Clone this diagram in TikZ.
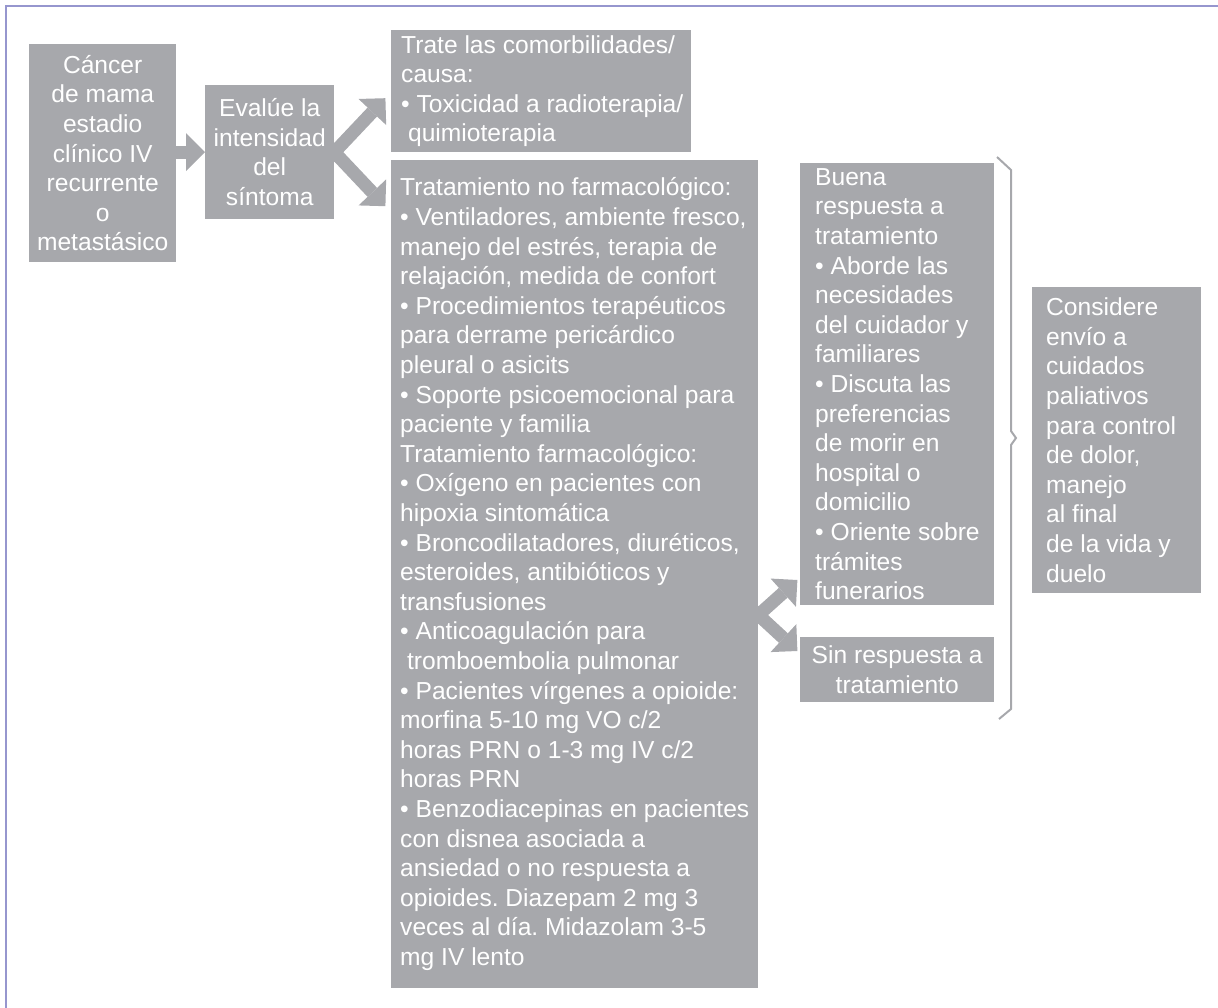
\documentclass[tikz,border=0pt]{standalone}
\usepackage{fontspec}
\setmainfont{Liberation Sans}
\usetikzlibrary{arrows.meta,calc}
\definecolor{boxgray}{RGB}{167,168,172}
\definecolor{framelav}{RGB}{150,150,206}
\frenchspacing

\begin{document}
\begin{tikzpicture}[x=1pt,y=-1pt,
  box/.style={fill=boxgray, draw=none, inner sep=0pt, anchor=north west},
  txt/.style={text=white, inner sep=0pt, font=\fontsize{24.6}{29.6}\selectfont},
  flow/.style={draw=boxgray, line width=13pt,
    -{Triangle[width=38pt,length=19pt,line width=0pt]}},
  bracket/.style={draw=boxgray, line width=2pt, line join=miter}
]
\useasboundingbox (0,0) rectangle (1218,1008);

% page frame (top and left edges)
\draw[framelav, line width=1.5pt] (6,1008) -- (6,6) -- (1218,6);

% boxes
\node[box, minimum width=147pt, minimum height=218pt] (cancer) at (29,44) {};
\node[box, minimum width=129pt, minimum height=134pt] (eval) at (205,85) {};
\node[box, minimum width=300pt, minimum height=122pt] (trate) at (391,30) {};
\node[box, minimum width=367pt, minimum height=828pt] (trat) at (391,160) {};
\node[box, minimum width=194pt, minimum height=442pt] (buena) at (800,163) {};
\node[box, minimum width=194pt, minimum height=65pt] (sin) at (800,637) {};
\node[box, minimum width=169pt, minimum height=306pt] (cons) at (1032,287) {};

% texts
\node[txt, align=center] (cancer-t) at (cancer.center)
  {Cáncer\\de mama\\estadio\\clínico IV\\recurrente\\o\\metastásico};
\node[txt, align=center] (eval-t) at (eval.center)
  {Evalúe la\\intensidad\\del\\síntoma};
\node[txt, align=left, anchor=west] (trate-t) at ($(trate.west)+(10,0)$)
  {Trate las comorbilidades/\\causa:\\• Toxicidad a radioterapia/\\\hspace*{0.28em}quimioterapia};
\node[txt, align=left, anchor=west] (trat-t) at ($(trat.west)+(9,0)$)
  {Tratamiento no farmacológico:\\
   • Ventiladores, ambiente fresco,\\
   manejo del estrés, terapia de\\
   relajación, medida de confort\\
   • Procedimientos terapéuticos\\
   para derrame pericárdico\\
   pleural o asicits\\
   • Soporte psicoemocional para\\
   paciente y familia\\
   Tratamiento farmacológico:\\
   • Oxígeno en pacientes con\\
   hipoxia sintomática\\
   • Broncodilatadores, diuréticos,\\
   esteroides, antibióticos y\\
   transfusiones\\
   • Anticoagulación para\\
   \hspace*{0.28em}tromboembolia pulmonar\\
   • Pacientes vírgenes a opioide:\\
   morfina 5-10 mg VO c/2\\
   horas PRN o 1-3 mg IV c/2\\
   horas PRN\\
   • Benzodiacepinas en pacientes\\
   con disnea asociada a\\
   ansiedad o no respuesta a\\
   opioides. Diazepam 2 mg 3\\
   veces al día. Midazolam 3-5\\
   mg IV lento};
\node[txt, align=left, anchor=west] (buena-t) at ($(buena.west)+(15,0)$)
  {Buena\\respuesta a\\tratamiento\\• Aborde las\\necesidades\\del cuidador y\\familiares\\• Discuta las\\preferencias\\de morir en\\hospital o\\domicilio\\• Oriente sobre\\trámites\\funerarios};
\node[txt, align=center] (sin-t) at (sin.center)
  {Sin respuesta a\\tratamiento};
\node[txt, align=left, anchor=west] (cons-t) at ($(cons.west)+(14,0)$)
  {Considere\\envío a\\cuidados\\paliativos\\para control\\de dolor,\\manejo\\al final\\de la vida y\\duelo};

% connectors
\draw[flow] (cancer.east |- eval.west) -- (eval.west);
\draw[flow, shorten <=-8pt] (eval.east) -- ($(eval.east)+(51,-54)$);
\draw[flow, shorten <=-8pt] (eval.east) -- ($(eval.east)+(51,54)$);
\coordinate (fork) at ($(trat.north east)+(0,455)$);
\draw[flow, shorten <=-8pt] (fork) -- ($(fork)+(39,-35)$);
\draw[flow, shorten <=-8pt] (fork) -- ($(fork)+(39,36)$);

% bracket gathering the two outcomes
\draw[bracket] (997,157) -- (1011,170) -- (1011,431) -- (1016,438)
  -- (1011,445) -- (1011,709) -- (999,719);
\end{tikzpicture}
\end{document}
